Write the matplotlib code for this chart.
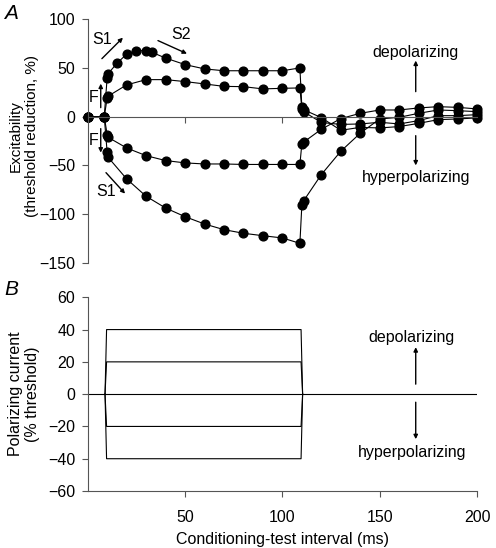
import matplotlib
matplotlib.use("Agg")
import matplotlib.pyplot as plt
import numpy as np

plt.rcParams['font.family'] = ['Liberation Sans', 'DejaVu Sans']
plt.rcParams['font.size'] = 11

# ---- Panel A: excitability (threshold reduction, %) ----
t_on = [0, 8.5, 10, 10.5, 20, 30, 40, 50, 60, 70, 80, 90, 100, 109, 110, 111,
        120, 130, 140, 150, 160, 170, 180, 190, 200]
t_dep40 = [0, 8.5, 10, 10.5, 15, 20, 25, 30, 33, 40, 50, 60, 70, 80, 90, 100, 109, 110, 111,
           120, 130, 140, 150, 160, 170, 180, 190, 200]
dep40 = [0, 0, 40, 44, 54.6, 64, 67.6, 67.6, 65.9, 60, 53.3, 48.9, 47, 47, 47, 47, 49.9, 10, 7,
         -1, -14, -11, -11.6, -10.2, -6.9, -3.1, -2.4, -1.3]
dep20 = [0, 0, 19, 21, 32.5, 37.9, 37.9, 35.9, 33.5, 31, 30.7, 28.4, 29, 29.4, 8, 5,
         -6, -8, -7.5, -5.8, -7.5, -4.1, 1, 1, 2]
hyp20 = [0, 0, -18.4, -21.2, -32.1, -40, -45, -47.4, -48.5, -48.5, -49, -49, -49, -49, -28, -26,
         -13, -2, 3.4, 6.8, 6.8, 8.9, 10.2, 9.5, 7.9]
hyp40 = [0, 0, -36.6, -41.7, -63.8, -81.6, -93.6, -102.5, -110, -115.8, -119.5, -122, -124.3,
         -129.8, -91, -86, -59.4, -35.5, -17, -2.4, -0.7, 3.4, 6.8, 6.1, 5.1]

# ---- Panel B: polarizing current (% threshold) ----
pulse_t = [8.9, 9.7, 109.6, 110.4]
pulse_levels = [40, 20, -20, -40]

fig = plt.figure(figsize=(4.96, 5.48), dpi=100)
axA = fig.add_axes([0.1768, 0.52, 0.785, 0.4453])
axB = fig.add_axes([0.1768, 0.104, 0.785, 0.3535])

mk = dict(color='black', marker='o', markersize=6.3, lw=0.8, clip_on=False)
axA.plot(t_dep40, dep40, **mk)
for vals in [dep20, hyp20, hyp40]:
    axA.plot(t_on, vals, **mk)

axA.set_xlim(0, 200)
axA.set_ylim(-150, 100)
axA.set_yticks([-150, -100, -50, 0, 50, 100])
axA.set_xticks([50, 100, 150, 200])
axA.set_xticklabels([])
for s in ['top', 'right']:
    axA.spines[s].set_visible(False)
axA.spines['bottom'].set_position(('data', 0))
axA.spines['left'].set_color('#555555')
axA.spines['bottom'].set_color('#555555')
axA.tick_params(direction='out', length=4.5, color='#555555', labelsize=11.5, pad=4.5)
axA.set_ylabel('Excitability\n(threshold reduction, %)', fontsize=11)
axA.yaxis.set_label_coords(-0.125, 0.52)

arr = dict(arrowstyle='-|>', color='black', lw=1, mutation_scale=6, shrinkA=0, shrinkB=0)
axA.annotate('', xy=(18.1, 80.9), xytext=(7.3, 59.4), arrowprops=arr)
axA.text(7.6, 79, 'S1', ha='center', va='center', fontsize=11.5)
axA.annotate('', xy=(51, 64.5), xytext=(36.1, 77.9), arrowprops=arr)
axA.text(47.9, 84, 'S2', ha='center', va='center', fontsize=11.5)
axA.annotate('', xy=(6.7, 33.8), xytext=(6.7, 9.2), arrowprops=arr)
axA.text(3.0, 19.5, 'F', ha='center', va='center', fontsize=11.5)
axA.annotate('', xy=(6.7, -36.9), xytext=(6.7, -12.3), arrowprops=arr)
axA.text(3.0, -24.6, 'F', ha='center', va='center', fontsize=11.5)
axA.annotate('', xy=(19.2, -78.9), xytext=(9.4, -57.4), arrowprops=arr)
axA.text(9.4, -76.8, 'S1', ha='center', va='center', fontsize=11.5)

axA.annotate('', xy=(168.5, 57.4), xytext=(168.5, 25.6), arrowprops=arr)
axA.text(168.5, 66, 'depolarizing', ha='center', va='center', fontsize=11.5)
axA.annotate('', xy=(168.5, -50), xytext=(168.5, -19.5), arrowprops=arr)
axA.text(168.5, -62.5, 'hyperpolarizing', ha='center', va='center', fontsize=11.5)

# Panel B
axB.plot([0, 200], [0, 0], color='black', lw=0.8)
for lev in pulse_levels:
    axB.plot(pulse_t, [0, lev, lev, 0], color='black', lw=0.8)
axB.set_xlim(0, 200)
axB.set_ylim(-60, 60)
axB.set_yticks([-60, -40, -20, 0, 20, 40, 60])
axB.set_xticks([50, 100, 150, 200])
for s in ['top', 'right']:
    axB.spines[s].set_visible(False)
axB.spines['left'].set_color('#555555')
axB.spines['bottom'].set_color('#555555')
axB.tick_params(direction='out', length=4.5, color='#555555', labelsize=11.5, pad=4.5)
axB.tick_params(axis='x', pad=9)
axB.set_ylabel('Polarizing current\n(% threshold)', fontsize=11.5)
axB.yaxis.set_label_coords(-0.122, 0.5)
axB.set_xlabel('Conditioning-test interval (ms)', fontsize=11.5, labelpad=5)

axB.annotate('', xy=(168.5, 29.1), xytext=(168.5, 6.2), arrowprops=arr)
axB.text(166.5, 35.3, 'depolarizing', ha='center', va='center', fontsize=11.5)
axB.annotate('', xy=(168.5, -27.9), xytext=(168.5, -5), arrowprops=arr)
axB.text(166.5, -36, 'hyperpolarizing', ha='center', va='center', fontsize=11.5)

fig.text(0.008, 0.975, 'A', fontsize=15, style='italic', ha='left', va='center')
fig.text(0.008, 0.472, 'B', fontsize=15, style='italic', ha='left', va='center')

fig.savefig('out.png', dpi=100)
